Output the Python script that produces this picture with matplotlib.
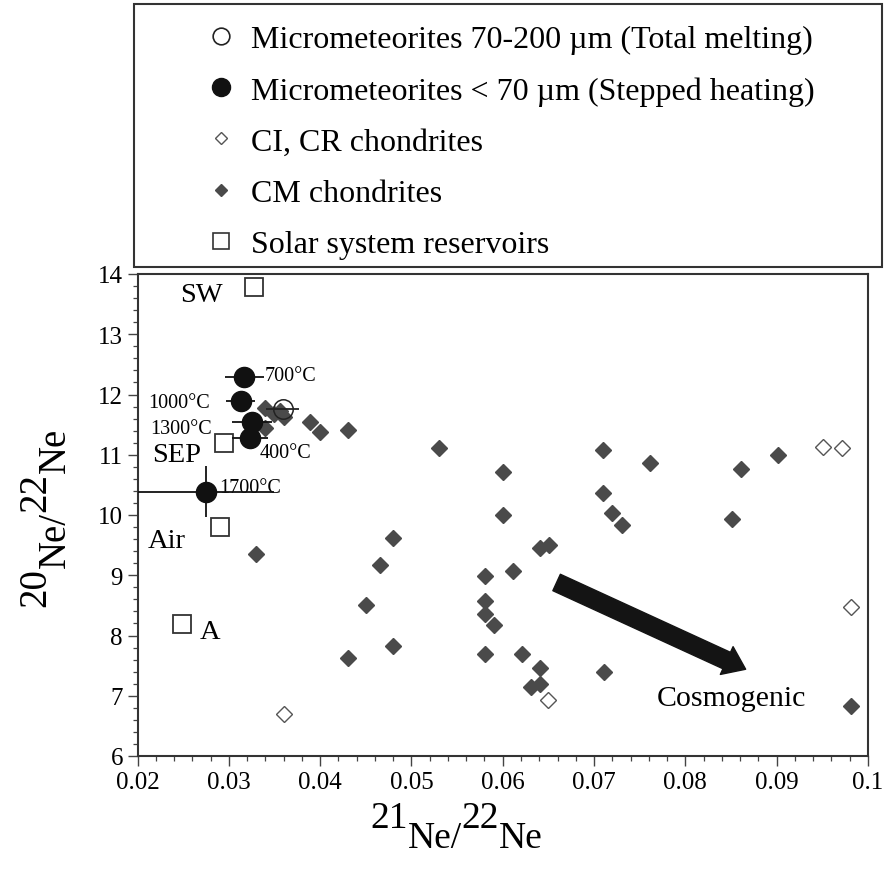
import matplotlib
matplotlib.use("Agg")
import matplotlib.pyplot as plt
from matplotlib.lines import Line2D
from matplotlib.patches import Rectangle, FancyArrowPatch
from matplotlib.ticker import MultipleLocator

plt.rcParams['font.family'] = ['Liberation Serif', 'DejaVu Serif']

# --- data ---
# micrometeorites < 70 um, stepped heating (filled circles)
step_x = [0.0317, 0.0313, 0.0325, 0.0323, 0.0275]
step_y = [12.285, 11.90, 11.54, 11.28, 10.39]
step_xerr = [0.0021, 0.0016, 0.0022, 0.0020, 0.0074]
step_yerr = [0.0, 0.0, 0.0, 0.0, 0.43]
step_lbl = ["700°C", "1000°C", "1300°C", "400°C", "1700°C"]

# micrometeorites 70-200 um, total melting (open circle)
melt_x = [0.0359]
melt_y = [11.76]
melt_xerr = [0.0018]

# CI, CR chondrites (open diamonds)
ci_x = [0.0951, 0.0971, 0.0981, 0.0650, 0.0360]
ci_y = [11.13, 11.11, 8.48, 6.93, 6.69]

# CM chondrites (filled diamonds)
cm_x = [0.0340, 0.0349, 0.0356, 0.0360, 0.0340, 0.0389, 0.0400, 0.0430, 0.0480, 0.0330,
        0.0530, 0.0600, 0.0600, 0.0710, 0.0710, 0.0720, 0.0731, 0.0641, 0.0651, 0.0611,
        0.0581, 0.0466, 0.0761, 0.0861, 0.0901, 0.0851, 0.0450, 0.0430, 0.0480, 0.0581,
        0.0581, 0.0590, 0.0581, 0.0621, 0.0641, 0.0631, 0.0641, 0.0711, 0.0981]
cm_y = [11.78, 11.68, 11.72, 11.62, 11.44, 11.54, 11.38, 11.41, 9.62, 9.35,
        11.12, 10.72, 10.00, 11.08, 10.37, 10.03, 9.83, 9.46, 9.51, 9.07,
        8.98, 9.17, 10.87, 10.76, 11.00, 9.93, 8.51, 7.63, 7.82, 8.57,
        8.35, 8.18, 7.69, 7.69, 7.46, 7.14, 7.20, 7.39, 6.83]

# solar system reservoirs (squares)
res_x = [0.0328, 0.0295, 0.0290, 0.0249]
res_y = [13.78, 11.19, 9.80, 8.19]
res_lbl = ["SW", "SEP", "Air", "A"]

W, H = 885, 879
fig = plt.figure(figsize=(W / 100, H / 100), dpi=100)
ax = fig.add_axes([137.5 / W, 1 - 757 / H, (868 - 137.5) / W, (757 - 275) / H])

cm_col = '#4a4a4a'
ax.plot(cm_x, cm_y, 'D', ms=7.8, mfc=cm_col, mec=cm_col, ls='none', zorder=3)
ax.plot(ci_x, ci_y, 'D', ms=7.8, mfc='white', mec='#555555', mew=1.0, ls='none', zorder=3)
ax.errorbar(melt_x, melt_y, xerr=melt_xerr, fmt='o', ms=14, mfc='none', mec='#222222',
            mew=1.1, ecolor='#222222', elinewidth=1.3, capsize=0, zorder=4)
ax.errorbar(step_x, step_y, xerr=step_xerr, yerr=step_yerr, fmt='o', ms=14.5,
            mfc='#111111', mec='#111111', ecolor='#111111', elinewidth=1.3, capsize=0, zorder=5)
ax.plot(res_x, res_y, 's', ms=13, mfc='white', mec='#333333', mew=1.3, ls='none', zorder=4)

# point labels
tfs = 14.5
ax.text(0.0339, 12.31, step_lbl[0], fontsize=tfs, ha='left', va='center')
ax.text(0.0279, 11.86, step_lbl[1], fontsize=tfs, ha='right', va='center')
ax.text(0.0282, 11.43, step_lbl[2], fontsize=tfs, ha='right', va='center')
ax.text(0.0334, 11.03, step_lbl[3], fontsize=tfs, ha='left', va='center')
ax.text(0.0290, 10.46, step_lbl[4], fontsize=tfs, ha='left', va='center')

rfs = 20.5
ax.text(0.0270, 13.66, res_lbl[0], fontsize=rfs, ha='center', va='center')
ax.text(0.0243, 11.00, res_lbl[1], fontsize=rfs, ha='center', va='center')
ax.text(0.0232, 9.58, res_lbl[2], fontsize=rfs, ha='center', va='center')
ax.text(0.0279, 8.07, res_lbl[3], fontsize=rfs, ha='center', va='center')

# cosmogenic arrow
arr = FancyArrowPatch((0.0659, 8.88), (0.0866, 7.44),
                      arrowstyle='simple,head_length=1.5,head_width=2.2,tail_width=1.3',
                      mutation_scale=10, color='#141414', zorder=6, shrinkA=0, shrinkB=0)
ax.add_patch(arr)
ax.text(0.0850, 6.97, "Cosmogenic", fontsize=21.5, ha='center', va='center')

ax.set_xlim(0.02, 0.1)
ax.set_ylim(6, 14)
ax.xaxis.set_major_locator(MultipleLocator(0.01))
ax.xaxis.set_minor_locator(MultipleLocator(0.002))
ax.yaxis.set_major_locator(MultipleLocator(1))
ax.yaxis.set_minor_locator(MultipleLocator(0.2))
ax.set_xticks([0.02, 0.03, 0.04, 0.05, 0.06, 0.07, 0.08, 0.09, 0.1])
ax.set_xticklabels(["0.02", "0.03", "0.04", "0.05", "0.06", "0.07", "0.08", "0.09", "0.1"])
ax.set_yticks([6, 7, 8, 9, 10, 11, 12, 13, 14])
ax.tick_params(which='major', direction='out', length=7.5, width=1.0, color='#444444',
               labelsize=18, pad=3)
ax.tick_params(which='minor', direction='out', length=3.8, width=0.9, color='#444444')
ax.tick_params(top=False, right=False, which='both')
for sp in ax.spines.values():
    sp.set_color('#333333')
    sp.set_linewidth(1.5)

# axis labels: big isotope numbers with the element set lower
r = fig.canvas.get_renderer()


def chain(pieces, x, y, rot, size):
    for s, sh in pieces:
        if rot == 0:
            t = fig.text(x / W, 1 - (y + sh) / H, s, fontsize=size, ha='left', va='baseline')
            x += t.get_window_extent(r).width
        else:
            t = fig.text((x + sh) / W, 1 - y / H, s, fontsize=size, rotation=90,
                         rotation_mode='anchor', ha='left', va='baseline')
            y -= t.get_window_extent(r).height


chain([("21", 0), ("Ne/", 20), ("22", 0), ("Ne", 20)], 370, 828, 0, 27)
chain([("20", -20), ("Ne/", 0), ("22", -20), ("Ne", 0)], 65, 607, 90, 28)

# legend in its own framed box above the plot
fig.add_artist(Rectangle((134 / W, 1 - 268 / H), (882 - 134) / W, (268 - 5) / H,
                         transform=fig.transFigure, fill=False, ec='#333333', lw=1.5))
handles = [
    Line2D([], [], ls='none', marker='o', ms=12, mfc='white', mec='#222222', mew=1.2),
    Line2D([], [], ls='none', marker='o', ms=13, mfc='#111111', mec='#111111'),
    Line2D([], [], ls='none', marker='D', ms=6.5, mfc='white', mec='#555555', mew=1.0),
    Line2D([], [], ls='none', marker='D', ms=6.5, mfc=cm_col, mec=cm_col),
    Line2D([], [], ls='none', marker='s', ms=12, mfc='white', mec='#333333', mew=1.2),
]
labels = ["Micrometeorites 70-200 µm (Total melting)",
          "Micrometeorites < 70 µm (Stepped heating)",
          "CI, CR chondrites",
          "CM chondrites",
          "Solar system reservoirs"]
fig.legend(handles, labels, loc='upper left', bbox_to_anchor=(205 / W, 1 - 26 / H),
           frameon=False, fontsize=23, handlelength=1.0, handletextpad=0.45,
           labelspacing=0.68, borderpad=0, borderaxespad=0)

fig.savefig("out.png", dpi=100)
